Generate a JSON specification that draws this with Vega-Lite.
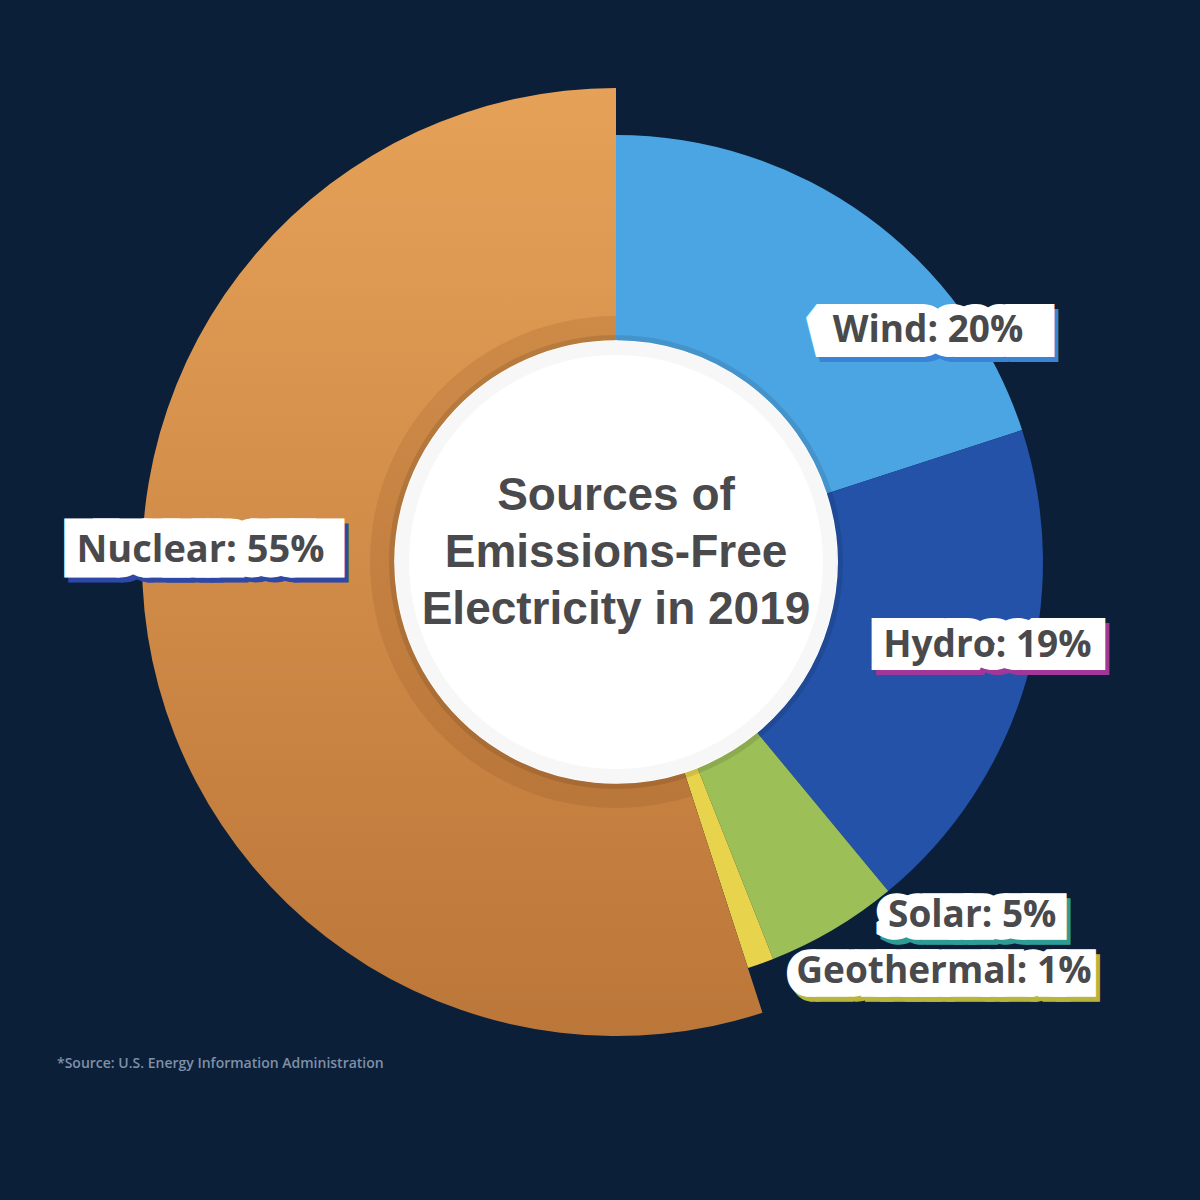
{
  "$schema": "https://vega.github.io/schema/vega-lite/v6.json",
  "width": 1168,
  "height": 1124,
  "autosize": {"type": "none"},
  "padding": {"left": 32, "top": 0, "right": 0, "bottom": 76},
  "background": "#0B1F38",
  "config": {
    "view": {"stroke": null},
    "text": {"font": "Open Sans", "fontSize": 37, "fontWeight": "bold", "align": "center", "baseline": "alphabetic", "radius": 380, "strokeJoin": "miter", "strokeMiterLimit": 1.5}
  },
  "title": {
    "text": "*Source: U.S. Energy Information Administration",
    "orient": "bottom",
    "anchor": "start",
    "frame": "group",
    "offset": -67,
    "dx": 25,
    "font": "Open Sans",
    "fontSize": 14,
    "fontWeight": 600,
    "color": "#7F90A8"
  },
  "data": {
    "values": [
      {"source": "Wind", "value": 20, "rank": 1, "label": "Wind: 20%"},
      {"source": "Hydro", "value": 19, "rank": 2, "label": "Hydro: 19%"},
      {"source": "Solar", "value": 5, "rank": 3, "label": "Solar: 5%"},
      {"source": "Geothermal", "value": 1, "rank": 4, "label": "Geothermal: 1%"},
      {"source": "Nuclear", "value": 55, "rank": 5, "label": "Nuclear: 55%"}
    ]
  },
  "transform": [
    {"stack": "value", "groupby": [], "sort": [{"field": "rank", "order": "ascending"}], "as": ["v0", "v1"]}
  ],
  "layer": [
    {
      "transform": [{"filter": "datum.source !== 'Nuclear'"}],
      "mark": {"type": "arc", "radius": 427, "innerRadius": 200},
      "encoding": {
        "theta": {"field": "v0", "type": "quantitative", "stack": null, "scale": {"domain": [0, 100]}},
        "theta2": {"field": "v1"},
        "color": {
          "field": "source",
          "type": "nominal",
          "legend": null,
          "scale": {"domain": ["Wind", "Hydro", "Solar", "Geothermal"], "range": ["#4CA5E3", "#2452A8", "#9CBF58", "#E8D34C"]}
        }
      }
    },
    {
      "transform": [{"filter": "datum.source === 'Nuclear'"}],
      "mark": {
        "type": "arc",
        "radius": 474,
        "innerRadius": 200,
        "fill": {"gradient": "linear", "x1": 0, "y1": 0, "x2": 0, "y2": 1, "stops": [{"offset": 0, "color": "#E6A158"}, {"offset": 1, "color": "#BB7639"}]}
      },
      "encoding": {
        "theta": {"field": "v0", "type": "quantitative", "stack": null, "scale": {"domain": [0, 100]}},
        "theta2": {"field": "v1"}
      }
    },
    {
      "transform": [{"filter": "datum.source === 'Nuclear'"}],
      "mark": {"type": "arc", "radius": 246, "innerRadius": 200, "fill": "#5A2A00", "fillOpacity": 0.1},
      "encoding": {
        "theta": {"field": "v0", "type": "quantitative", "stack": null, "scale": {"domain": [0, 100]}},
        "theta2": {"field": "v1"}
      }
    },
    {
      "mark": {"type": "arc", "radius": 227, "innerRadius": 0, "fill": "#000000", "fillOpacity": 0.1},
      "encoding": {
        "theta": {"field": "v0", "type": "quantitative", "stack": null, "scale": {"domain": [0, 100]}},
        "theta2": {"field": "v1"}
      }
    },
    {
      "mark": {"type": "arc", "radius": 221, "innerRadius": 0, "fill": "#FFFFFF", "stroke": "#FFFFFF", "strokeWidth": 1.5},
      "encoding": {
        "theta": {"field": "v0", "type": "quantitative", "stack": null, "scale": {"domain": [0, 100]}},
        "theta2": {"field": "v1"}
      }
    },
    {
      "mark": {"type": "arc", "radius": 221, "innerRadius": 207, "fill": "#6A6A6A", "fillOpacity": 0.05},
      "encoding": {
        "theta": {"field": "v0", "type": "quantitative", "stack": null, "scale": {"domain": [0, 100]}},
        "theta2": {"field": "v1"}
      }
    },
    {
      "transform": [{"filter": "datum.rank === 1"}],
      "mark": {
        "type": "text",
        "text": ["Sources of", "Emissions-Free", "Electricity in 2019"],
        "font": "Liberation Sans",
        "fontSize": 46,
        "fontWeight": "bold",
        "lineHeight": 57,
        "radius": 0,
        "dy": -52,
        "fill": "#4A4A4C"
      }
    },
    {
      "transform": [{"filter": "datum.source === 'Wind'"}],
      "encoding": {"theta": {"field": "v0", "type": "quantitative", "scale": {"domain": [0, 100]}}},
      "layer": [
        {"mark": {"type": "text", "text": {"expr": "replace(replace(upper(datum.label), ': ', 'S'), '%', 'N')"}, "fontSize": 43, "dx": 320, "dy": 169, "fill": "#3A84D8", "stroke": "#3A84D8", "strokeWidth": 22}},
        {"mark": {"type": "text", "text": {"expr": "replace(replace(upper(datum.label), ': ', 'S'), '%', 'N')"}, "fontSize": 43, "dx": 316, "dy": 164, "fill": "#FFFFFF", "stroke": "#FFFFFF", "strokeWidth": 22}},
        {"mark": {"type": "text", "dx": 312, "dy": 160, "fill": "#4A4A4C"}, "encoding": {"text": {"field": "label", "type": "nominal"}}}
      ]
    },
    {
      "transform": [{"filter": "datum.source === 'Hydro'"}],
      "encoding": {"theta": {"field": "v0", "type": "quantitative", "scale": {"domain": [0, 100]}}},
      "layer": [
        {"mark": {"type": "text", "text": {"expr": "replace(replace(upper(datum.label), ': ', 'S'), '%', 'N')"}, "fontSize": 34.8, "dx": 15, "dy": 216, "fill": "#A0379A", "stroke": "#A0379A", "strokeWidth": 28}},
        {"mark": {"type": "text", "text": {"expr": "replace(replace(upper(datum.label), ': ', 'S'), '%', 'N')"}, "fontSize": 34.8, "dx": 11, "dy": 211, "fill": "#FFFFFF", "stroke": "#FFFFFF", "strokeWidth": 28}},
        {"mark": {"type": "text", "dx": 10, "dy": 212, "fill": "#4A4A4C"}, "encoding": {"text": {"field": "label", "type": "nominal"}}}
      ]
    },
    {
      "transform": [{"filter": "datum.source === 'Solar'"}],
      "encoding": {"theta": {"field": "v0", "type": "quantitative", "scale": {"domain": [0, 100]}}},
      "layer": [
        {"mark": {"type": "text", "text": {"expr": "replace(replace(upper(datum.label), ': ', 'S'), '%', 'N')"}, "fontSize": 32.9, "dx": 118, "dy": 78, "fill": "#2E9C94", "stroke": "#2E9C94", "strokeWidth": 23.5}},
        {"mark": {"type": "text", "text": {"expr": "replace(replace(upper(datum.label), ': ', 'S'), '%', 'N')"}, "fontSize": 32.9, "dx": 114, "dy": 73, "fill": "#FFFFFF", "stroke": "#FFFFFF", "strokeWidth": 23.5}},
        {"mark": {"type": "text", "dx": 114, "dy": 72, "fill": "#4A4A4C"}, "encoding": {"text": {"field": "label", "type": "nominal"}}}
      ]
    },
    {
      "transform": [{"filter": "datum.source === 'Geothermal'"}],
      "encoding": {"theta": {"field": "v0", "type": "quantitative", "scale": {"domain": [0, 100]}}},
      "layer": [
        {"mark": {"type": "text", "text": {"expr": "replace(replace(upper(datum.label), ': ', 'S'), '%', 'N')"}, "fontSize": 33.1, "dx": 190, "dy": 75, "fill": "#B9B43A", "stroke": "#B9B43A", "strokeWidth": 23.4}},
        {"mark": {"type": "text", "text": {"expr": "replace(replace(upper(datum.label), ': ', 'S'), '%', 'N')"}, "fontSize": 33.1, "dx": 186, "dy": 70, "fill": "#FFFFFF", "stroke": "#FFFFFF", "strokeWidth": 23.4}},
        {"mark": {"type": "text", "dx": 188, "dy": 68, "fill": "#4A4A4C"}, "encoding": {"text": {"field": "label", "type": "nominal"}}}
      ]
    },
    {
      "transform": [{"filter": "datum.source === 'Nuclear'"}],
      "encoding": {"theta": {"field": "v0", "type": "quantitative", "scale": {"domain": [0, 100]}}},
      "layer": [
        {"mark": {"type": "text", "text": {"expr": "replace(replace(upper(datum.label), ': ', 'S'), '%', 'N')"}, "fontSize": 35.3, "dx": -525, "dy": -357, "fill": "#2D48A6", "stroke": "#2D48A6", "strokeWidth": 32.8}},
        {"mark": {"type": "text", "text": {"expr": "replace(replace(upper(datum.label), ': ', 'S'), '%', 'N')"}, "fontSize": 35.3, "dx": -529, "dy": -362, "fill": "#FFFFFF", "stroke": "#FFFFFF", "strokeWidth": 32.8}},
        {"mark": {"type": "text", "dx": -533, "dy": -361, "fontSize": 38, "fill": "#4A4A4C"}, "encoding": {"text": {"field": "label", "type": "nominal"}}}
      ]
    }
  ]
}
